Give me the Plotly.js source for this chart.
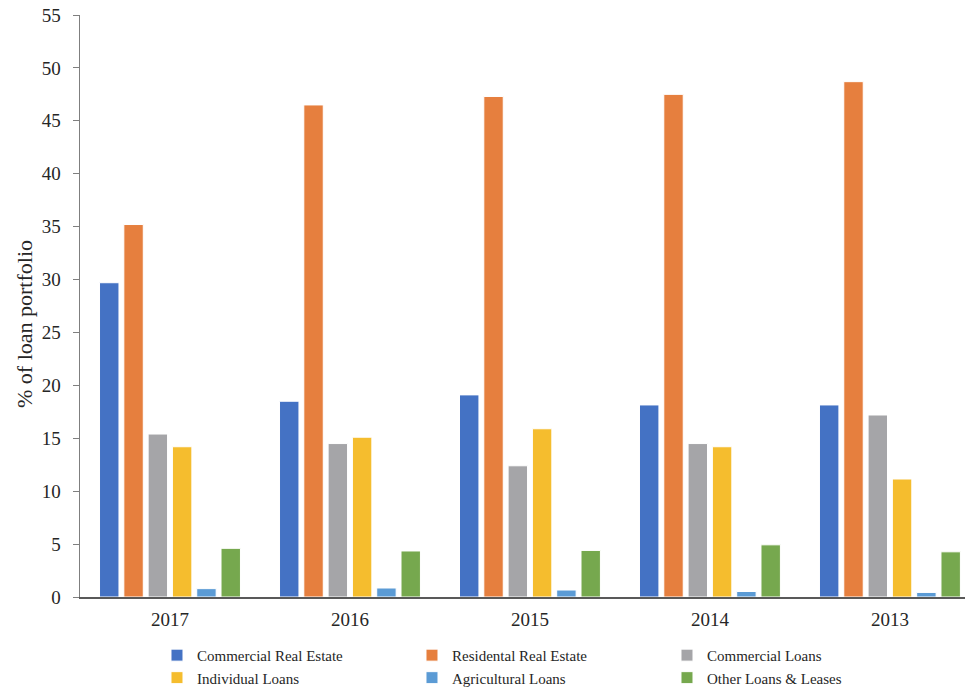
<!DOCTYPE html>
<html>
<head>
<meta charset="utf-8">
<script src="https://cdn.plot.ly/plotly-3.0.1.min.js"></script>
<style>html,body{margin:0;padding:0;background:#fff;}#chart{width:967px;height:689px;}</style>
</head>
<body>
<div id="chart"></div>
<script>
const years = ["2017", "2016", "2015", "2014", "2013"];
const commercialRealEstate = [29.7, 18.5, 19.1, 18.15, 18.15];
const residentialRealEstate = [35.2, 46.5, 47.3, 47.5, 48.7];
const commercialLoans = [15.4, 14.5, 12.4, 14.5, 17.2];
const individualLoans = [14.2, 15.1, 15.9, 14.2, 11.15];
const agriculturalLoans = [0.79, 0.85, 0.66, 0.52, 0.43];
const otherLoansLeases = [4.6, 4.35, 4.4, 4.93, 4.27];

const seriesNames = ["Commercial Real Estate", "Residental Real Estate", "Commercial Loans",
  "Individual Loans", "Agricultural Loans", "Other Loans & Leases"];
const seriesValues = [commercialRealEstate, residentialRealEstate, commercialLoans,
  individualLoans, agriculturalLoans, otherLoansLeases];
const seriesColors = ["#4472C4", "#E67F3E", "#A5A5A8", "#F5BD2E", "#5B9BD5", "#76A84E"];

const traces = seriesNames.map((name, i) => ({
  type: "bar",
  name: name,
  x: years,
  y: seriesValues[i],
  marker: { color: seriesColors[i], line: { color: "#ffffff", width: 1 } },
  hoverinfo: "x+y+name"
}));

const font = '"Liberation Serif", "Times New Roman", serif';
const layout = {
  width: 967,
  height: 689,
  margin: { l: 80, r: 2, t: 15, b: 92, autoexpand: false },
  paper_bgcolor: "#ffffff",
  plot_bgcolor: "#ffffff",
  barmode: "group",
  bargap: 0.19,
  bargroupgap: 0.2,
  font: { family: font, color: "#262626" },
  xaxis: {
    type: "category",
    range: [-0.5, 4.417],
    showline: true,
    linecolor: "#595959",
    linewidth: 2,
    ticks: "",
    showgrid: false,
    zeroline: false,
    tickfont: { family: font, size: 19, color: "#262626" },
    ticklabelstandoff: 4
  },
  yaxis: {
    range: [0, 55],
    dtick: 5,
    tick0: 0,
    showline: true,
    linecolor: "#7f7f7f",
    linewidth: 1.5,
    ticks: "outside",
    ticklen: 6,
    tickcolor: "#7f7f7f",
    showgrid: false,
    zeroline: false,
    tickfont: { family: font, size: 19, color: "#262626" },
    ticklabelstandoff: 8
  },
  annotations: [{
    text: "% of loan portfolio",
    xref: "paper", yref: "paper",
    x: -0.0633, y: 0.469,
    xanchor: "center", yanchor: "middle",
    textangle: -90,
    showarrow: false,
    font: { family: font, size: 22, color: "#262626" }
  }],
  legend: {
    orientation: "h",
    x: 0.087,
    xanchor: "left",
    y: -0.072,
    yanchor: "top",
    entrywidth: 210,
    entrywidthmode: "pixels",
    font: { family: font, size: 15, color: "#262626" },
    traceorder: "normal",
    itemclick: false
  },
  showlegend: true
};

Plotly.newPlot("chart", traces, layout, { displayModeBar: false, staticPlot: true });
</script>
</body>
</html>
